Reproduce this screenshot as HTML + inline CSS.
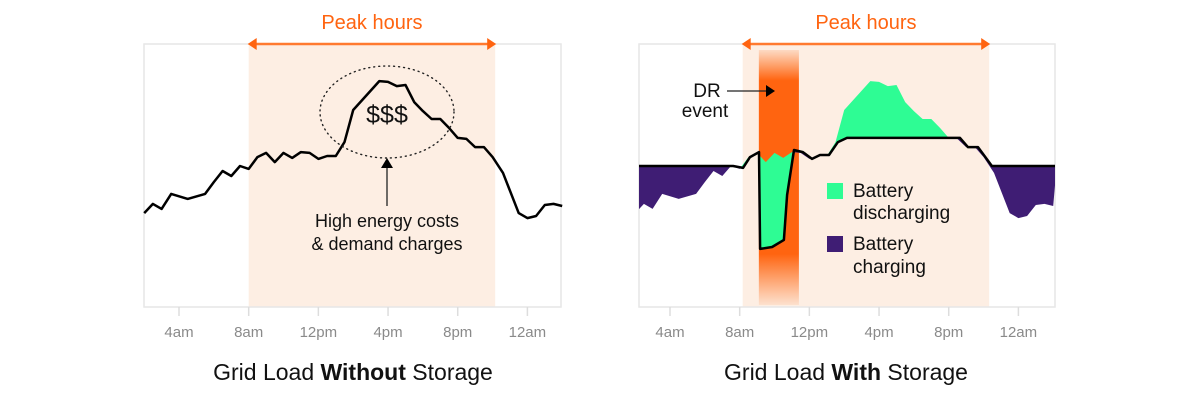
<!DOCTYPE html>
<html><head><meta charset="utf-8"><style>
html,body{margin:0;padding:0;background:#fff;}
svg{display:block;font-family:"Liberation Sans",sans-serif;}
</style></head><body>
<svg id="c" width="1200" height="400" viewBox="0 0 1200 400">
<defs>
<linearGradient id="drg" x1="0" y1="0" x2="0" y2="1">
<stop offset="0" stop-color="#ff6a13" stop-opacity="0.15"/>
<stop offset="0.12" stop-color="#ff6410" stop-opacity="1"/>
<stop offset="0.8" stop-color="#ff6410" stop-opacity="1"/>
<stop offset="1" stop-color="#ff6a13" stop-opacity="0.1"/>
</linearGradient>
<clipPath id="clipR"><rect x="639" y="44" width="416" height="263"/></clipPath>
</defs>
<g id="root"></g>
</svg>
<script>
const hours=[2,2.5,3,3.55,4.5,5.5,6,6.5,7,7.5,8,8.5,9,9.5,10,10.5,11,11.5,12,12.5,13,13.5,14,15.5,16,16.5,17,17.5,18,18.5,19,19.5,20,20.5,21,21.5,22,22.6,23.5,24,24.5,25,25.5,26];
const load=[35.7,39.2,37.3,43,41.1,43,47.5,51.7,49.8,53.6,52.5,57,58.6,55.1,58.6,56.7,58.9,58.6,56.3,57.4,57.4,62.7,74.9,85.9,85.6,84,84.4,77.9,74.5,71.5,71.5,68.1,64.3,63.9,60.8,60.8,57,51,35.7,33.8,34.6,38.8,39.2,38.4];
const gridHours=[2,7.62,8.19,8.59,9.11,9.17,9.86,10.54,10.72,11.12,11.63,12.15,12.61,13.13,13.64,14.16,20.65,21.1,21.68,22.48,26.2];
const gridLoad=[53.6,53.6,52.9,57,58.9,22.1,22.8,25.5,42.6,59.7,58.9,56.3,57.8,57.8,62.7,64.3,64.3,60.8,60.8,53.6,53.6];
const tickHours=[4,8,12,16,20,24];
const tickLabels=["4am","8am","12pm","4pm","8pm","12am"];
const peakStart=8, peakEnd=22.15, drStart=9.1, drEnd=11.4;

const NS="http://www.w3.org/2000/svg";
const root=document.getElementById('root');
function mk(tag,attrs,parent,text){const e=document.createElementNS(NS,tag);for(const k in attrs)e.setAttribute(k,attrs[k]);if(text!==undefined)e.textContent=text;(parent||root).appendChild(e);return e;}
const yS=v=>307-v*2.63;
function panel(x4){return h=>x4+(h-4)*17.42;}
const xL=panel(179), xR=panel(670);

function drawPanel(xS,boxL,boxR,name,shift){
  const g=mk('g',{});
  
  
  const a1=xS(peakStart)+shift, a2=xS(peakEnd)+shift;
  const sh=mk('rect',{x:a1,y:44,width:a2-a1,height:263,fill:'#fdeee3'},g);
  
  
  const bx=mk('rect',{x:boxL,y:44,width:boxR-boxL,height:263,fill:'none',stroke:'#e6e6e6','stroke-width':1.5},g);
  
  
  tickHours.forEach((h,i)=>{
    const t=mk('line',{x1:xS(h),x2:xS(h),y1:307,y2:316,stroke:'#dddddd','stroke-width':1.5},g);
    
    
    const l=mk('text',{x:xS(h),y:337,'text-anchor':'middle','font-size':15,fill:'#8a8a8a'},g,tickLabels[i]);
    
    
  });
  const ar=mk('line',{x1:a1+4,x2:a2-4,y1:44,y2:44,stroke:'#ff7a30','stroke-width':2.5},g);
  
  
  mk('polygon',{points:`${a1-1},44 ${a1+8},38 ${a1+8},50`,fill:'#ff6410'},g);
  mk('polygon',{points:`${a2+1},44 ${a2-8},38 ${a2-8},50`,fill:'#ff6410'},g);
  const pt=mk('text',{x:(a1+a2)/2,y:29,'text-anchor':'middle','font-size':20,fill:'#ff6410'},g,'Peak hours');
  
  
  return g;
}

// Left panel
const gl=drawPanel(xL,144,561,'without-storage',0);
const lp=hours.map((h,i)=>xL(h).toFixed(1)+','+yS(load[i]).toFixed(1)).join(' ');
const ll=mk('polyline',{points:lp,fill:'none',stroke:'#000','stroke-width':2.5,'stroke-linejoin':'round'},gl);


const el=mk('ellipse',{cx:387,cy:112,rx:67,ry:46,fill:'none',stroke:'#222','stroke-width':1.4,'stroke-dasharray':'1 4','stroke-linecap':'round'},gl);


const dl=mk('text',{x:387,y:123,'text-anchor':'middle','font-size':25,fill:'#111'},gl,'$$$');


mk('line',{x1:387,x2:387,y1:206,y2:168,stroke:'#222','stroke-width':1.3},gl);
mk('polygon',{points:'387,158 381,168 393,168',fill:'#000'},gl);
const h1=mk('text',{x:387,y:227,'text-anchor':'middle','font-size':18,fill:'#111'},gl,'High energy costs');


const h2=mk('text',{x:387,y:250,'text-anchor':'middle','font-size':18,fill:'#111'},gl,'& demand charges');


const t1=mk('text',{x:353,y:380,'text-anchor':'middle','font-size':23,fill:'#111'},gl);


t1.innerHTML='Grid Load <tspan font-weight="bold">Without</tspan> Storage';

// Right panel
const gr=drawPanel(xR,639,1055,'with-storage',3);
const dr=mk('rect',{x:xR(drStart),y:50,width:xR(drEnd)-xR(drStart),height:255,fill:'url(#drg)'},gr);


const gPts=gridHours.map((h,i)=>[xR(h),yS(gridLoad[i])]);
const lPts=hours.map((h,i)=>[xR(h),yS(load[i])]);
const gStr=gPts.map(p=>p[0].toFixed(1)+','+p[1].toFixed(1)).join(' ');
const area=lPts.concat(gPts.slice().reverse()).map(p=>p[0].toFixed(1)+','+p[1].toFixed(1)).join(' ');
const defs=document.querySelector('defs');
const cA=mk('clipPath',{id:'aboveG'},defs);
mk('polygon',{points:`${xR(gridHours[0])},0 `+gStr+` ${xR(gridHours[gridHours.length-1])},0`},cA);
const cB=mk('clipPath',{id:'belowG'},defs);
mk('polygon',{points:`${xR(gridHours[0])},400 `+gStr+` ${xR(gridHours[gridHours.length-1])},400`},cB);
const gc=mk('g',{'clip-path':'url(#clipR)'},gr);
const ga=mk('g',{'clip-path':'url(#aboveG)'},gc);
const dis=mk('polygon',{points:area,fill:'#2efc94'},ga);


const gb=mk('g',{'clip-path':'url(#belowG)'},gc);
const chg=mk('polygon',{points:area,fill:'#3f1d74'},gb);


const gline=mk('polyline',{points:gStr,fill:'none',stroke:'#000','stroke-width':2.5,'stroke-linejoin':'round'},gc);


const d1=mk('text',{x:707,y:97,'text-anchor':'middle','font-size':19,fill:'#111'},gr,'DR');


const d2=mk('text',{x:705,y:117,'text-anchor':'middle','font-size':19,fill:'#111'},gr,'event');


mk('line',{x1:727,x2:767,y1:91,y2:91,stroke:'#222','stroke-width':1.3},gr);
mk('polygon',{points:'775,91 766,85 766,97',fill:'#000'},gr);
const lg1=mk('rect',{x:827,y:183,width:16,height:16,fill:'#2efc94'},gr);


mk('text',{x:853,y:197,'font-size':19,fill:'#111'},gr,'Battery');
mk('text',{x:853,y:219,'font-size':19,fill:'#111'},gr,'discharging');
const lg2=mk('rect',{x:827,y:236,width:16,height:16,fill:'#3f1d74'},gr);


mk('text',{x:853,y:250,'font-size':19,fill:'#111'},gr,'Battery');
mk('text',{x:853,y:273,'font-size':19,fill:'#111'},gr,'charging');
const t2=mk('text',{x:846,y:380,'text-anchor':'middle','font-size':23,fill:'#111'},gr);


t2.innerHTML='Grid Load <tspan font-weight="bold">With</tspan> Storage';
</script>
</body></html>
